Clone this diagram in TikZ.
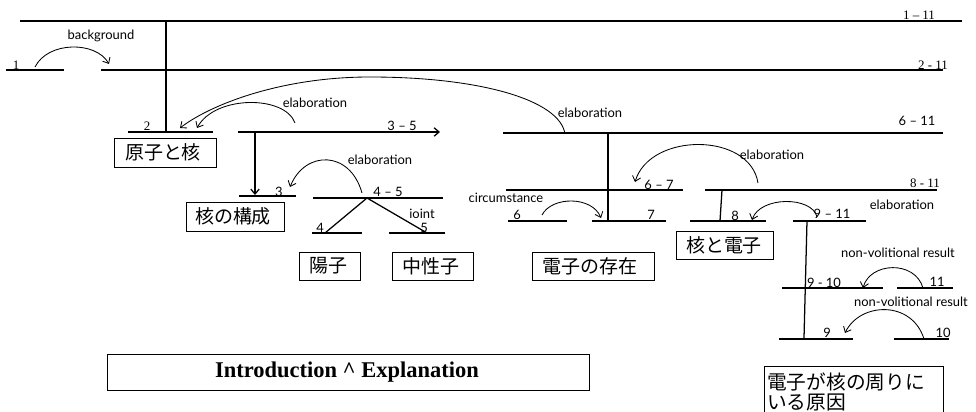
\documentclass[tikz,border=0pt]{standalone}
\usepackage{fontspec}
\setmainfont{Liberation Serif}
\newfontfamily\gillfont{Lato}
\newfontfamily\jpfont{Noto Sans CJK JP}
\usetikzlibrary{arrows.meta}

\tikzset{
  span/.style={line width=0.9pt},
  relarc/.style={line width=0.6pt,-{Straight Barb[length=3.5pt,width=6pt]}},
  tipped/.style={-{Straight Barb[length=3.5pt,width=6pt]}},
  lab/.style={font=\gillfont\fontsize{9.2}{10}\selectfont,inner sep=0pt},
  num/.style={font=\fontsize{9.2}{10}\selectfont,inner sep=0pt},
  jpbox/.style={line width=0.6pt},
  jptext/.style={font=\jpfont\fontsize{13.5}{14}\selectfont,inner sep=0pt},
}

\begin{document}
\begin{tikzpicture}[x=0.025cm,y=-0.025cm]
  \useasboundingbox (0,0) rectangle (976,412);
  \clip (0,0) rectangle (976,412);

  % top spans
  \draw[span] (20,21) -- (962,21);
  \node[num] (l111) at (919,15) {1 – 11};
  \draw[span] (166,21) -- (166,132);
  \draw[span] (101,70) -- (943,70);
  \node[num] (l211) at (933,65) {2 - 11};
  \draw[span] (6,70) -- (64,70);
  \node[num] (l1) at (16,65) {1};
  \coordinate (bgA) at (35,67);
  \coordinate (bgB) at (109,64);
  \draw[relarc] (bgA) .. controls (48,41) and (96,41) .. (bgB);
  \node[lab] (bglab) at (101,36) {background};

  % 2 and 3-5
  \draw[span] (128,132) -- (213,132);
  \node[num] (l2) at (147,126) {2};
  \node[lab] (l35) at (402,126) {3 – 5};
  \draw[span,tipped] (238,132) -- (440,132);
  \coordinate (elA) at (295,123);
  \coordinate (elB) at (197,128);
  \draw[relarc] (elA) .. controls (285,95) and (215,95) .. (elB);
  \node[lab] (ellab) at (315,103) {elaboration};

  \draw[span] (503,133) -- (943,133);
  \node[lab] (l611) at (917,121) {6 – 11};
  \coordinate (bigA) at (565,134);
  \coordinate (bigB) at (180,128);
  \draw[relarc] (bigA) .. controls (560,100) and (480,77) .. (370,77)
    .. controls (280,77) and (210,105) .. (bigB);
  \node[lab] (biglab) at (590,113) {elaboration};

  % 3, 4-5
  \draw[span,tipped] (255,132) -- (255,195);
  \draw[span] (239,196) -- (296,196);
  \node[lab] (l3) at (279,192) {3};
  \draw[span] (313,198) -- (443,198);
  \node[lab] (l45) at (388,192) {4 – 5};
  \coordinate (jn) at (367,198);
  \draw[span] (jn) -- (325,233);
  \draw[span] (jn) -- (427,233);
  \draw[span] (312,233) -- (362,233);
  \draw[span] (389,233) -- (445,233);
  \node[lab] (l4) at (320,228) {4};
  \node[lab] (l5) at (424,228) {5};
  \node[lab] (jlab) at (422,214) {ioint};
  \coordinate (e3A) at (362,193);
  \coordinate (e3B) at (290,187);
  \draw[relarc] (e3A) .. controls (350,150) and (305,150) .. (e3B);
  \node[lab] (e3lab) at (380,160) {elaboration};

  % 6-7, 8-11
  \draw[span] (608,133) -- (608,221);
  \draw[span] (506,190) -- (683,190);
  \node[lab] (l67) at (659,185) {6 – 7};
  \draw[span] (705,190) -- (937,190);
  \node[num] (l811) at (925,183) {8 - 11};
  \coordinate (e67A) at (758,183);
  \coordinate (e67B) at (635,182);
  \draw[relarc] (e67A) .. controls (750,132) and (650,132) .. (e67B);
  \node[lab] (e67lab) at (772,155) {elaboration};

  \draw[span] (508,221) -- (567,221);
  \node[lab] (l6) at (517,215) {6};
  \draw[span] (592,221) -- (666,221);
  \node[lab] (l7) at (651,215) {7};
  \coordinate (cA) at (542,215);
  \coordinate (cB) at (601,218);
  \draw[relarc] (cA) .. controls (552,196) and (592,196) .. (cB);
  \node[lab] (clab) at (506,198) {circumstance};

  % 8, 9-11
  \draw[span] (722,190) -- (720,221);
  \draw[span] (690,221) -- (766,221);
  \node[lab] (l8) at (735,216) {8};
  \draw[span] (793,221) -- (866,221);
  \node[lab] (l911) at (832,214) {9 – 11};
  \coordinate (e8A) at (817,217);
  \coordinate (e8B) at (752,220);
  \draw[relarc] (e8A) .. controls (812,196) and (760,196) .. (e8B);
  \node[lab] (e8lab) at (902,205) {elaboration};

  % 9-10, 11, 9, 10
  \draw[span] (807,221) -- (804,338);
  \draw[span] (782,288) -- (883,288);
  \node[lab] (l910) at (824,283) {9 - 10};
  \draw[span] (897,288) -- (953,288);
  \node[lab] (l11) at (937,282) {11};
  \coordinate (nvA) at (923,288);
  \coordinate (nvB) at (863,288);
  \draw[relarc] (nvA) .. controls (915,260) and (870,262) .. (nvB);
  \node[lab] (nvlab) at (898,253) {non-volitional result};
  \draw[span] (779,339) -- (853,339);
  \node[lab] (l9) at (827,333) {9};
  \draw[span] (894,339) -- (949,339);
  \node[lab] (l10) at (943,333) {10};
  \coordinate (nwA) at (924,339);
  \coordinate (nwB) at (845,333);
  \draw[relarc] (nwA) .. controls (912,300) and (860,302) .. (nwB);
  \node[lab] (nwlab) at (911,302) {non-volitional result};

  % boxes
  \draw[jpbox] (114,138) rectangle (216,167);
  \node[jptext] (genshi) at (163,152.5) {原子と核};
  \draw[jpbox] (186,202) rectangle (284,231);
  \node[jptext] (kousei) at (233,216.5) {核の構成};
  \draw[jpbox] (299,252) rectangle (360,280);
  \node[jptext] (youshi) at (328,266) {陽子};
  \draw[jpbox] (392,252) rectangle (473,280);
  \node[jptext] (chusei) at (431,266) {中性子};
  \draw[jpbox] (532,252) rectangle (654,280);
  \node[jptext] (sonzai) at (590,266) {電子の存在};
  \draw[jpbox] (676,231) rectangle (773,259);
  \node[jptext] (denshi) at (724,245) {核と電子};
  \draw[jpbox] (764,366) rectangle (943,425);
  \node[jptext,font=\jpfont\fontsize{14}{14.2}\selectfont,align=left,anchor=west] (genin) at (767,392) {電子が核の周りに\\いる原因};

  \draw[jpbox] (107,354) rectangle (589,390);
  \node[font=\bfseries\fontsize{16}{18}\selectfont,inner sep=0pt] (title) at (347,372) {Introduction \^{} Explanation};
\end{tikzpicture}
\end{document}
